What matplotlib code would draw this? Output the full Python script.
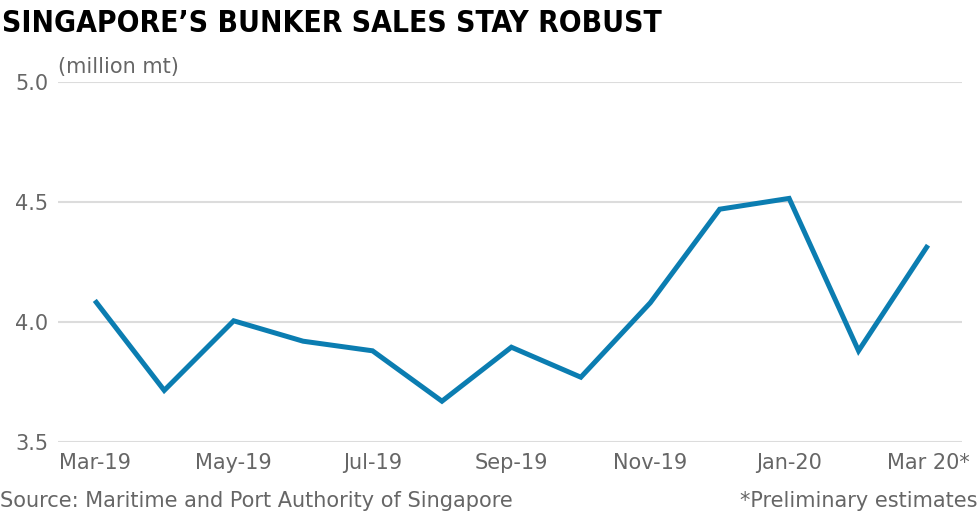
import matplotlib
matplotlib.use('Agg')
import matplotlib.pyplot as plt

# Singapore bunker sales, million mt
months = ['Mar-19', 'Apr-19', 'May-19', 'Jun-19', 'Jul-19', 'Aug-19', 'Sep-19',
          'Oct-19', 'Nov-19', 'Dec-19', 'Jan-20', 'Feb-20', 'Mar 20*']
sales = [4.09, 3.715, 4.005, 3.92, 3.88, 3.67, 3.895,
         3.77, 4.08, 4.47, 4.515, 3.88, 4.32]
yticks = [3.5, 4.0, 4.5, 5.0]
ytick_labels = ['3.5', '4.0', '4.5', '5.0']

LINE = '#0b7db1'
GRID = '#dcdcdc'
TXT = '#666666'

W, H = 980, 517
fig = plt.figure(figsize=(W / 100, H / 100), dpi=100)
ax = fig.add_axes([58 / W, (H - 442) / H, (962 - 58) / W, (442 - 82) / H])

x = list(range(len(months)))
ax.plot(x, sales, color=LINE, linewidth=3.6, solid_joinstyle='miter',
        solid_capstyle='butt', zorder=3)

ax.set_xlim(-0.53, 12.49)
ax.set_ylim(3.5, 5.0)
ax.set_yticks(yticks)
ax.set_yticklabels(ytick_labels)
ax.set_xticks(x[::2])
ax.set_xticklabels(months[::2])
ax.grid(axis='y', color=GRID, linewidth=1.5, zorder=1)
ax.grid(axis='x', visible=False)
for s in ax.spines.values():
    s.set_visible(False)
ax.tick_params(length=0, labelsize=15, labelcolor=TXT)
ax.tick_params(axis='y', pad=7)
ax.tick_params(axis='x', pad=8)

fig.text(2 / W, 1 - 32 / H, 'SINGAPORE\u2019S BUNKER SALES STAY ROBUST',
         fontsize=21.5, fontweight='bold', fontstretch='condensed',
         color='black', va='baseline', family='DejaVu Sans')
fig.text(58 / W, 1 - 73 / H, '(million mt)', fontsize=15, color=TXT,
         va='baseline')
fig.text(0 / W, 1 - 507 / H, 'Source: Maritime and Port Authority of Singapore',
         fontsize=15, color=TXT, va='baseline')
fig.text(977 / W, 1 - 507 / H, '*Preliminary estimates', fontsize=15,
         color=TXT, va='baseline', ha='right')

fig.savefig('out.png', dpi=100)
